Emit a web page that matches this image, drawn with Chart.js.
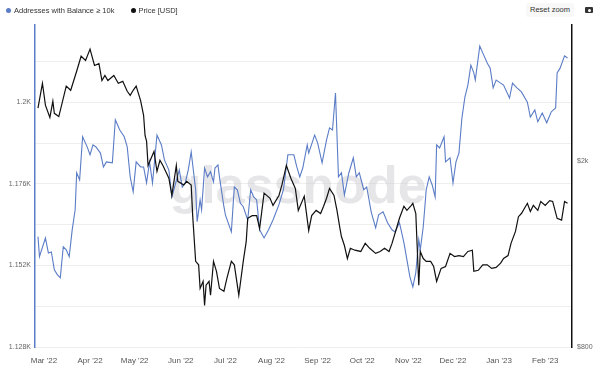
<!DOCTYPE html>
<html>
<head>
<meta charset="utf-8">
<script src="https://cdn.jsdelivr.net/npm/chart.js@4.4.0/dist/chart.umd.min.js"></script>
<style>
  body { margin: 0; background: #fff; font-family: "Liberation Sans", Arial, sans-serif; }
  #wrap { position: relative; width: 600px; height: 373px; }
  #legend { position: absolute; left: 6px; top: 6px; font-size: 7.5px; color: #333; white-space: nowrap; }
  #legend span.item { margin-right: 14px; }
  #legend i { display: inline-block; width: 5px; height: 5px; border-radius: 50%; margin-right: 3px; vertical-align: 0px; }
  #reset { position: absolute; left: 526px; top: 3px; width: 48px; height: 14px; line-height: 14px; text-align: center;
           font-size: 7.5px; color: #333; background: #f8f8f8; border-radius: 2px; }
  #cam { position: absolute; left: 585px; top: 7px; width: 8px; height: 6px; background: #333; border-radius: 1px; }
  #cam:after { content: ""; position: absolute; left: 2.5px; top: 1.5px; width: 3px; height: 3px; border-radius: 50%; background: #fff; }
</style>
</head>
<body>
<div id="wrap">
  <canvas id="chart" width="600" height="373"></canvas>
  <div id="legend">
    <span class="item"><i style="background:#5b7cc6"></i>Addresses with Balance ≥ 10k</span>
    <span class="item"><i style="background:#111"></i>Price [USD]</span>
  </div>
  <div id="reset">Reset zoom</div>
  <div id="cam"></div>
</div>
<script>
// days counted from 1 Mar 2022
var monthDays = [0, 31, 61, 92, 122, 153, 184, 214, 245, 275, 306, 337];
var monthLabels = ["Mar '22", "Apr '22", "May '22", "Jun '22", "Jul '22", "Aug '22",
                   "Sep '22", "Oct '22", "Nov '22", "Dec '22", "Jan '23", "Feb '23"];

var addrDays = [
  -4, -3, 1, 3, 5, 7, 9, 11, 13, 15,
  17, 19, 21, 22, 24, 26, 29, 31, 33, 35,
  38, 40, 42, 46, 48, 51, 54, 56, 58, 60,
  62, 65, 67, 69, 71, 73, 76, 79, 81, 84,
  86, 91, 93, 95, 97, 99, 102, 103, 105, 106,
  108, 110, 112, 114, 115, 117, 118, 121, 122, 126,
  128, 130, 132, 134, 137, 139, 141, 143, 145, 148,
  151, 154, 158, 161, 164, 168, 170, 172, 174, 177,
  178, 182, 184, 187, 190, 192, 194, 196, 198, 200,
  202, 205, 208, 210, 212, 215, 217, 220, 223, 225,
  228, 231, 234, 236, 239, 242, 244, 246, 248, 250,
  252, 253, 255, 257, 259, 261, 263, 264, 266, 269,
  270, 273, 275, 277, 279, 281, 283, 285, 287, 289,
  290, 293, 295, 298, 300, 302, 304, 307, 309, 313,
  315, 318, 321, 325, 327, 330, 332, 335, 338, 341,
  344, 345, 347, 350, 352
];
var addrValues = [
  1160.5, 1154.6, 1160.1, 1155.7, 1156.0, 1150.7, 1149.3, 1148.4, 1157.5, 1156.6,
  1154.6, 1162.5, 1168.4, 1179.3, 1177.2, 1189.9, 1187.0, 1184.6, 1187.5, 1186.9,
  1185.1, 1181.0, 1182.5, 1182.2, 1194.9, 1191.9, 1189.9, 1186.9, 1178.1, 1173.7,
  1182.5, 1181.0, 1181.0, 1176.3, 1182.5, 1176.3, 1190.4, 1187.5, 1183.1, 1180.1,
  1172.2, 1180.1, 1175.1, 1176.3, 1180.1, 1185.4, 1174.3, 1164.9, 1171.3, 1168.4,
  1180.7, 1178.1, 1179.6, 1176.6, 1180.7, 1181.6, 1178.1, 1169.3, 1166.9, 1161.9,
  1175.1, 1174.3, 1170.4, 1169.3, 1165.4, 1174.3, 1172.2, 1171.3, 1162.5, 1160.1,
  1162.5, 1165.4, 1169.9, 1174.3, 1184.6, 1184.6, 1181.0, 1178.1, 1180.7, 1187.5,
  1185.1, 1190.4, 1188.1, 1182.2, 1189.0, 1192.5, 1191.9, 1202.8, 1178.1, 1179.3,
  1172.8, 1179.3, 1183.7, 1178.1, 1179.3, 1174.3, 1175.1, 1167.8, 1163.1, 1166.9,
  1167.8, 1164.6, 1162.5, 1161.9, 1164.6, 1158.7, 1153.7, 1148.7, 1145.7, 1149.9,
  1159.6, 1156.6, 1163.4, 1174.3, 1178.1, 1175.7, 1172.2, 1187.5, 1186.6, 1189.9,
  1182.5, 1183.7, 1176.3, 1182.5, 1185.1, 1195.4, 1201.6, 1205.1, 1211.0, 1208.7,
  1206.6, 1216.6, 1214.6, 1211.6, 1210.1, 1204.3, 1206.6, 1205.7, 1205.1, 1201.3,
  1205.7, 1204.3, 1203.1, 1200.1, 1195.7, 1197.8, 1194.3, 1196.9, 1194.0, 1197.2,
  1198.4, 1208.7, 1210.1, 1213.7, 1213.1
];

var priceDays = [
  -4, -1, 1, 4, 6, 7, 10, 15, 18, 22,
  25, 28, 31, 34, 37, 39, 41, 43, 47, 50,
  53, 56, 58, 60, 62, 65, 67, 68, 69, 70,
  74, 76, 78, 80, 84, 86, 89, 90, 94, 96,
  99, 100, 102, 104, 105, 107, 108, 109, 111, 112,
  114, 116, 118, 121, 123, 126, 128, 131, 134, 136,
  137, 140, 143, 145, 148, 152, 154, 158, 160, 163,
  166, 169, 171, 175, 178, 180, 183, 186, 188, 190,
  192, 195, 197, 199, 200, 202, 204, 206, 209, 213,
  216, 219, 223, 226, 229, 232, 234, 237, 239, 242,
  244, 247, 248, 250, 252, 253, 255, 257, 260, 262,
  264, 267, 270, 273, 276, 279, 282, 285, 288, 289,
  292, 295, 298, 301, 304, 307, 309, 312, 314, 317,
  319, 321, 325, 327, 329, 332, 334, 337, 340, 342,
  345, 348, 350, 352
];
var priceValues = [
  2600, 2940, 2640, 2485, 2690, 2535, 2495, 2900, 2840, 3120,
  3360, 3290, 3480, 3210, 3240, 2980, 3055, 2980, 3055, 2940,
  2968, 2826, 2770, 2840, 2900, 2700, 2510, 2270, 2210, 1960,
  2100, 1903, 2010, 1960, 1840, 1690, 1960, 1812, 1780, 1812,
  1780, 1530, 1221, 1200, 1068, 1106, 982, 1085, 1106, 1033,
  1221, 1162, 1068, 1053, 1122, 1221, 1200, 1033, 1221, 1347,
  1510, 1530, 1530, 1436, 1710, 1667, 1609, 1690, 1780, 1960,
  1840, 1750, 1570, 1683, 1422, 1530, 1570, 1546, 1603, 1667,
  1750, 1690, 1570, 1436, 1380, 1320, 1238, 1302, 1290, 1282,
  1334, 1302, 1270, 1282, 1302, 1282, 1334, 1436, 1510, 1603,
  1570, 1609, 1626, 1546, 1085, 1282, 1238, 1221, 1221, 1190,
  1106, 1179, 1190, 1270, 1250, 1256, 1250, 1282, 1290, 1162,
  1168, 1200, 1200, 1179, 1185, 1210, 1238, 1256, 1334, 1415,
  1522, 1546, 1626, 1562, 1609, 1570, 1641, 1609, 1648, 1641,
  1510, 1496, 1641, 1626
];

var pairs = function(xs, ys){
  var out = [];
  for (var i = 0; i < xs.length; i++) out.push({x: xs[i], y: ys[i]});
  return out;
};

var watermark = {
  id: 'watermark',
  beforeDatasetsDraw: function(chart){
    var ctx = chart.ctx, area = chart.chartArea;
    ctx.save();
    ctx.font = 'bold 52px "Liberation Sans", Arial, sans-serif';
    ctx.fillStyle = 'rgba(200,200,205,0.45)';
    ctx.textAlign = 'center';
    ctx.textBaseline = 'alphabetic';
    ctx.fillText('glassnode', area.left + area.width * 0.49, 203);
    ctx.restore();
  }
};

Chart.defaults.font.family = '"Liberation Sans", Arial, sans-serif';
Chart.defaults.color = '#555';

var ctx = document.getElementById('chart').getContext('2d');
var chart = new Chart(ctx, {
  type: 'line',
  data: {
    datasets: [{
      label: 'Addresses with Balance ≥ 10k',
      data: pairs(addrDays, addrValues),
      borderColor: '#5b7cc6',
      borderWidth: 1.1,
      pointRadius: 0,
      yAxisID: 'y',
      order: 1
    }, {
      label: 'Price [USD]',
      data: pairs(priceDays, priceValues),
      borderColor: '#111',
      borderWidth: 1.2,
      pointRadius: 0,
      yAxisID: 'y1',
      order: 0
    }]
  },
  options: {
    responsive: false,
    animation: false,
    layout: { padding: { top: 25, left: 0, right: 0, bottom: 0 } },
    plugins: {
      legend: { display: false },
      tooltip: { enabled: false }
    },
    scales: {
      x: {
        type: 'linear',
        min: -6,
        max: 355,
        grid: { display: false, drawTicks: false },
        border: { display: false },
        afterBuildTicks: function(scale){
          scale.ticks = monthDays.map(function(d){ return {value: d}; });
        },
        afterFit: function(scale){ scale.height = 26; },
        ticks: {
          padding: 9,
          maxRotation: 0,
          autoSkip: false,
          font: { size: 8 },
          color: '#555',
          callback: function(v){
            var i = monthDays.indexOf(v);
            return i >= 0 ? monthLabels[i] : '';
          }
        }
      },
      y: {
        position: 'left',
        min: 1128,
        max: 1222.8,
        grid: { color: '#eeeeee', drawTicks: false },
        border: { display: true, color: '#5b7cc6', width: 1.5 },
        afterBuildTicks: function(scale){
          var t = [];
          for (var v = 1128; v <= 1212; v += 12) t.push({value: v});
          scale.ticks = t;
        },
        afterFit: function(scale){ scale.width = 35; },
        ticks: {
          padding: 4,
          font: { size: 7 },
          color: '#666',
          callback: function(v){
            if ((v - 1128) % 24 !== 0) return '';
            return parseFloat((v / 1000).toFixed(3)) + 'K';
          }
        }
      },
      y1: {
        type: 'logarithmic',
        position: 'right',
        min: 800,
        max: 3920,
        grid: { display: false, drawTicks: false },
        border: { display: true, color: '#111', width: 1.5 },
        afterBuildTicks: function(scale){
          scale.ticks = [{value: 800}, {value: 2000}];
        },
        afterFit: function(scale){ scale.width = 28; },
        ticks: {
          padding: 5,
          font: { size: 7 },
          color: '#666',
          callback: function(v){
            return v >= 1000 ? '$' + (v / 1000) + 'k' : '$' + v;
          }
        }
      }
    }
  },
  plugins: [watermark]
});
</script>
</body>
</html>
